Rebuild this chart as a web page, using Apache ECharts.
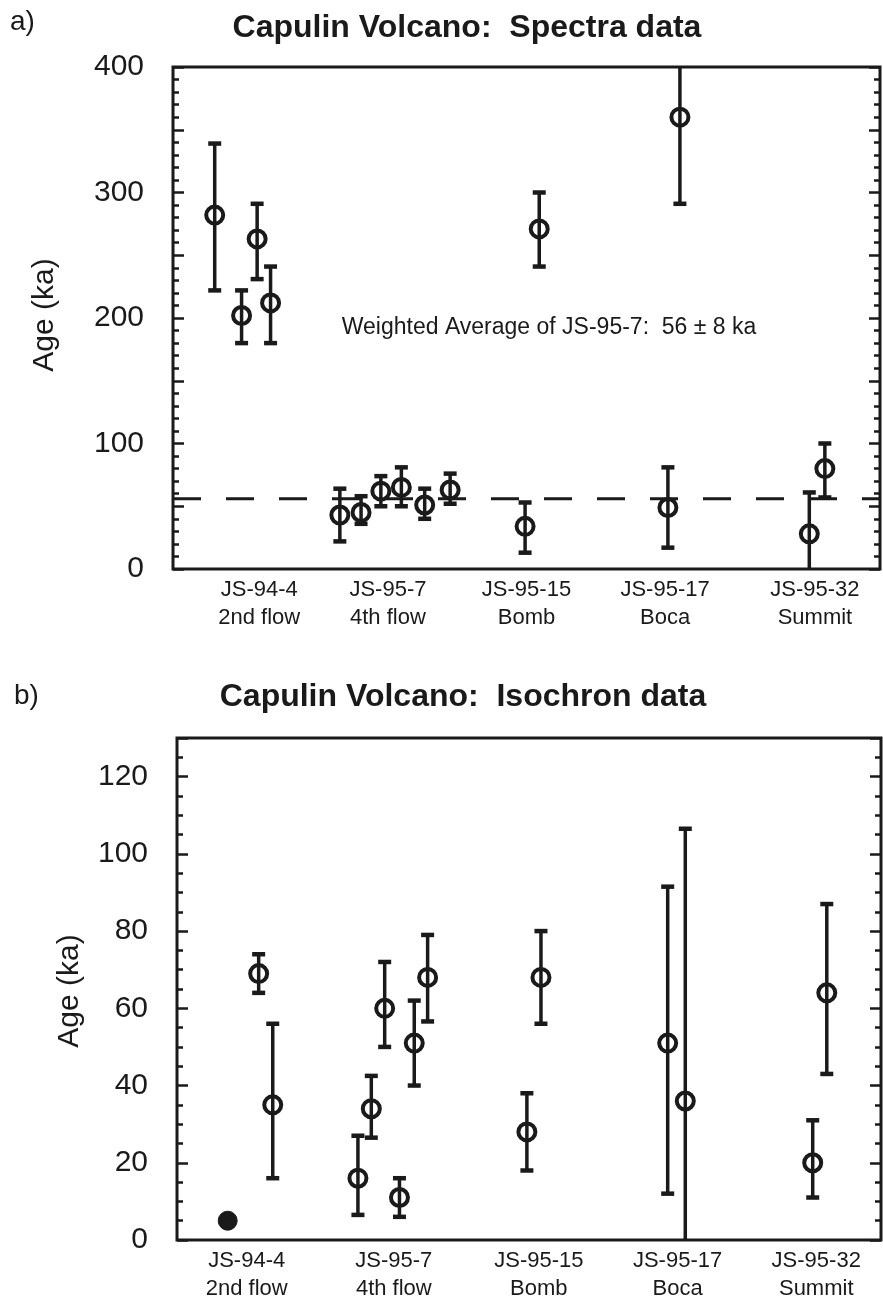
<!DOCTYPE html>
<html>
<head>
<meta charset="utf-8">
<title>Capulin Volcano</title>
<script src="https://cdn.jsdelivr.net/npm/echarts@6/dist/echarts.min.js"></script>
<style>
  html, body { margin: 0; padding: 0; background: #fff; }
  #main { width: 883px; height: 1304px; }
</style>
</head>
<body>
<div id="main"></div>
<script>
// sample labels (two lines each)
var spectraLabels = ["JS-94-4\n2nd flow", "JS-95-7\n4th flow", "JS-95-15\nBomb", "JS-95-17\nBoca", "JS-95-32\nSummit"];
var isochronLabels = ["JS-94-4\n2nd flow", "JS-95-7\n4th flow", "JS-95-15\nBomb", "JS-95-17\nBoca", "JS-95-32\nSummit"];
// where the labels sit on the 0..10 sample axis
var spectraLabelAt = [1.22, 3.04, 5.0, 6.96, 9.08];
var isochronLabelAt = [0.99, 3.08, 5.14, 7.11, 9.08];

// a) spectra data: position on sample axis, age, lower and upper error (ka)
var spectraX    = [0.59, 0.97, 1.19, 1.38, 2.36, 2.66, 2.94, 3.23, 3.56, 3.92, 4.98, 5.18, 7.0, 7.17, 9.0, 9.22];
var spectraAge  = [282, 202, 263, 212, 43, 45, 62, 65, 51, 63, 34, 271, 49, 360, 28, 80];
var spectraLow  = [222, 180, 231, 180, 22, 36, 50, 50, 40, 52, 13, 241, 17, 291, -5, 57];
var spectraHigh = [339, 222, 291, 241, 64, 58, 74, 81, 64, 76, 53, 300, 81, 430, 61, 100];
var weightedAvg = 56;

// b) isochron data
var isoX    = [0.72, 1.16, 1.36, 2.57, 2.76, 2.95, 3.16, 3.37, 3.56, 4.97, 5.17, 6.97, 7.22, 9.03, 9.23];
var isoAge  = [5, 69, 35, 16, 34, 60, 11, 51, 68, 28, 68, 51, 36, 20, 64];
var isoLow  = [4.2, 64, 16, 6.5, 26.5, 50, 6, 40, 56.6, 18, 56, 12, -34, 11, 43];
var isoHigh = [5.8, 74, 56, 27, 42.5, 72, 16, 62, 79, 38, 80, 91.5, 106.5, 31, 87];

var INK = "#1a1a1a";
var FONT = "Liberation Sans, Arial, Helvetica, sans-serif";

function rows(xs, ys, lo, hi) {
  return xs.map(function (x, i) { return [x, ys[i], lo[i], hi[i]]; });
}

function renderErr(params, api) {
  var x = api.value(0);
  var c = api.coord([x, api.value(1)]);
  var pLo = api.coord([x, api.value(2)]);
  var pHi = api.coord([x, api.value(3)]);
  var cap = 6.5, r = 8.5;
  // an error bar shorter than the marker just reads as a solid dot
  var tiny = Math.abs(pLo[1] - pHi[1]) < 2 * r;
  return {
    type: "group",
    children: [
      { type: "line", shape: { x1: c[0], y1: pLo[1], x2: c[0], y2: pHi[1] }, style: { stroke: INK, lineWidth: 3.5 } },
      { type: "line", shape: { x1: c[0] - cap, y1: pLo[1], x2: c[0] + cap, y2: pLo[1] }, style: { stroke: INK, lineWidth: 4.5 } },
      { type: "line", shape: { x1: c[0] - cap, y1: pHi[1], x2: c[0] + cap, y2: pHi[1] }, style: { stroke: INK, lineWidth: 4.5 } },
      { type: "circle", shape: { cx: c[0], cy: c[1], r: tiny ? 9.5 : r },
        style: { fill: tiny ? INK : "rgba(0,0,0,0)", stroke: INK, lineWidth: tiny ? 1 : 4 } }
    ]
  };
}

function sampleAxis(gridIndex, at, labels) {
  return {
    type: "value", gridIndex: gridIndex, min: 0, max: 10,
    axisLine: { show: false }, axisTick: { show: false }, splitLine: { show: false },
    axisLabel: {
      customValues: at, margin: 7, color: INK, fontFamily: FONT, fontSize: 22, lineHeight: 28,
      formatter: function (v) {
        for (var i = 0; i < at.length; i++) if (Math.abs(at[i] - v) < 1e-6) return labels[i];
        return "";
      }
    }
  };
}

function ageAxis(gridIndex, pos, max, step, len, labelEvery) {
  return {
    type: "value", gridIndex: gridIndex, position: pos, min: 0, max: max, interval: step,
    axisLine: { show: false }, splitLine: { show: false },
    axisTick: { show: true, inside: true, length: len, lineStyle: { color: INK, width: 2.5 } },
    axisLabel: {
      show: !!labelEvery, margin: 29, color: INK, fontFamily: FONT, fontSize: 30,
      formatter: function (v) { return labelEvery && v % labelEvery === 0 ? String(v) : ""; }
    }
  };
}

function txt(x, y, text, size, opts) {
  opts = opts || {};
  return {
    type: "text", x: x, y: y, rotation: opts.rot || 0, z: 10,
    style: {
      text: text, fill: INK, align: opts.align || "center", verticalAlign: "middle",
      font: (opts.bold ? "bold " : "") + size + "px " + FONT
    }
  };
}

var chart = echarts.init(document.getElementById("main"));

chart.setOption({
  animation: false,
  grid: [
    { left: 173, right: 3, top: 67, height: 502, show: true, borderColor: INK, borderWidth: 3, backgroundColor: "transparent" },
    { left: 177, right: 2, top: 738, height: 502, show: true, borderColor: INK, borderWidth: 3, backgroundColor: "transparent" }
  ],
  xAxis: [
    sampleAxis(0, spectraLabelAt, spectraLabels),
    sampleAxis(1, isochronLabelAt, isochronLabels)
  ],
  yAxis: [
    ageAxis(0, "left", 400, 10, 6, 100),
    ageAxis(0, "left", 400, 50, 11, 0),
    ageAxis(0, "right", 400, 10, 6, 0),
    ageAxis(0, "right", 400, 50, 11, 0),
    ageAxis(1, "left", 130, 5, 6, 20),
    ageAxis(1, "left", 130, 20, 11, 0),
    ageAxis(1, "right", 130, 5, 6, 0),
    ageAxis(1, "right", 130, 20, 11, 0)
  ],
  graphic: [
    txt(10, 22, "a)", 28, { align: "left" }),
    txt(467, 28, "Capulin Volcano:  Spectra data", 32, { bold: true }),
    txt(45, 315, "Age (ka)", 30, { rot: Math.PI / 2 }),
    txt(549, 328, "Weighted Average of JS-95-7:  56 \u00b1 8 ka", 23),
    txt(14, 696, "b)", 28, { align: "left" }),
    txt(463, 697, "Capulin Volcano:  Isochron data", 32, { bold: true }),
    txt(70, 991, "Age (ka)", 30, { rot: Math.PI / 2 })
  ],
  series: [
    {
      type: "line", xAxisIndex: 0, yAxisIndex: 0, symbol: "none", silent: true,
      data: [[0, weightedAvg], [10, weightedAvg]],
      lineStyle: { color: INK, width: 3, type: [28, 25] }
    },
    {
      type: "custom", xAxisIndex: 0, yAxisIndex: 0, clip: true, renderItem: renderErr,
      encode: { x: 0, y: [1, 2, 3] },
      data: rows(spectraX, spectraAge, spectraLow, spectraHigh)
    },
    {
      type: "custom", xAxisIndex: 1, yAxisIndex: 4, clip: true, renderItem: renderErr,
      encode: { x: 0, y: [1, 2, 3] },
      data: rows(isoX, isoAge, isoLow, isoHigh)
    }
  ]
});
</script>
</body>
</html>
